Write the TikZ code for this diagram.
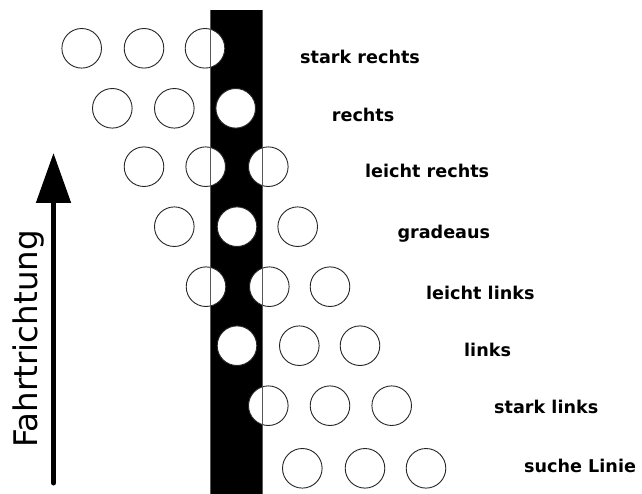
\documentclass[tikz,border=0pt]{standalone}
\usepackage{fontspec}
\setmainfont{DejaVu Sans}
\usetikzlibrary{arrows.meta}
\begin{document}
\begin{tikzpicture}[x=1pt,y=-1pt,
  dot/.style={circle, draw=black!85, line width=0.9pt, fill=white,
              minimum size=39.6pt, inner sep=0pt},
  state/.style={anchor=base west, inner sep=0pt,
                font=\fontsize{17.6}{20}\selectfont\bfseries},
  edgeline/.style={draw=black!65, line width=0.8pt},
]
\useasboundingbox (0,0) rectangle (642,494);

% the black line on the floor
\fill[black] (210.7,10) rectangle (262,494);
\coordinate (lt) at (210.7,10);
\coordinate (lb) at (210.7,494);
\coordinate (rt) at (262,10);
\coordinate (rb) at (262,494);

% three sensors per row, one row per driving state
\foreach \r/\y/\xa/\xb/\xc in {
  1/48.3/81.7/144/205,
  2/108.3/112.3/174.3/235.7,
  3/166.7/144/205.7/268.3,
  4/226.7/174.3/237/297.7,
  5/286.7/206/269.3/330,
  6/345.7/237/299.3/360,
  7/405.7/268.3/330/391.7,
  8/468.3/302.3/365/426}{
  \node[dot] (s\r a) at (\xa,\y) {};
  \node[dot] (s\r b) at (\xb,\y) {};
  \node[dot] (s\r c) at (\xc,\y) {};
}

% edges of the line, visible across the sensors
\draw[edgeline] (lt) -- (lb);
\draw[edgeline] (rt) -- (rb);

% state labels
\node[state] (l1) at (300,64)    {stark rechts};
\node[state] (l2) at (331.7,121.7) {rechts};
\node[state] (l3) at (365,177.3) {leicht rechts};
\node[state] (l4) at (397.3,238.3) {gradeaus};
\node[state] (l5) at (426,299.3) {leicht links};
\node[state] (l6) at (464,356)   {links};
\node[state] (l7) at (494,413.3) {stark links};
\node[state] (l8) at (524,472.7) {suche Linie};

% driving direction
\coordinate (tail) at (53.5,483);
\coordinate (tip) at (53.5,153);
\draw[line width=5pt, line cap=round,
      -{Triangle[length=50pt,width=34pt]}] (tail) -- (tip);
\node[rotate=90, anchor=base west, inner sep=0pt,
      font=\fontsize{32.5}{36}\selectfont] (dir) at (37,448) {Fahrtrichtung};
\end{tikzpicture}
\end{document}
